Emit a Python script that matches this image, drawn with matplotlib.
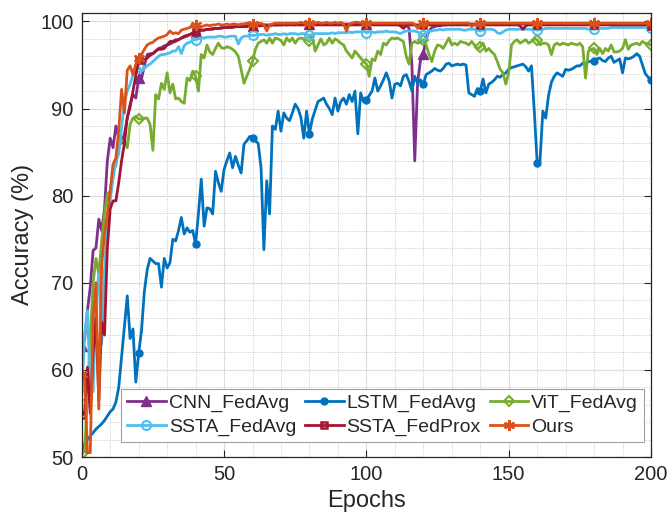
import numpy as np
import matplotlib
matplotlib.use('Agg')
import matplotlib.pyplot as plt
from matplotlib.ticker import MultipleLocator

# epochs 0..200
epochs = np.arange(0, 201)

cnn_fedavg = [
    62.8, 63.4, 66.8, 69.5, 73.7, 74.0, 77.3, 76.0, 78.5, 84.0,
    86.6, 85.5, 88.0, 86.6, 86.0, 87.1, 88.9, 90.5, 91.6, 91.2,
    93.5, 93.4, 94.9, 96.2, 96.3, 96.3, 96.6, 96.9, 97.0, 97.2,
    97.3, 97.4, 97.6, 97.7, 97.9, 98.1, 98.2, 98.3, 98.5, 98.6,
    98.8, 98.9, 99.0, 99.0, 99.1, 99.1, 99.2, 99.2, 99.2, 99.3,
    99.3, 99.3, 99.4, 99.4, 99.4, 99.4, 99.5, 99.5, 99.5, 99.5,
    99.5, 99.5, 99.6, 99.6, 99.6, 99.6, 99.6, 99.6, 99.6, 99.6,
    99.6, 99.7, 99.6, 99.7, 99.7, 99.6, 99.7, 99.7, 99.7, 99.7,
    99.7, 99.7, 99.7, 99.7, 99.7, 99.7, 99.7, 99.7, 99.7, 99.7,
    99.7, 99.7, 99.7, 99.7, 99.7, 99.7, 99.7, 99.7, 99.7, 99.7,
    99.7, 99.7, 99.7, 99.7, 99.7, 99.7, 99.7, 99.7, 99.7, 99.7,
    99.7, 99.7, 99.7, 99.6, 99.7, 99.2, 95.0, 84.0, 93.0, 95.5,
    96.3, 98.0, 98.9, 99.3, 99.4, 99.5, 99.5, 99.6, 99.6, 99.7,
    99.7, 99.7, 99.7, 99.7, 99.7, 99.7, 99.7, 99.7, 99.7, 99.7,
    99.7, 99.7, 99.7, 99.7, 99.7, 99.7, 99.7, 99.7, 99.7, 99.7,
    99.7, 99.7, 99.7, 99.7, 99.7, 99.7, 99.7, 99.7, 99.7, 99.7,
    99.7, 99.7, 99.7, 99.7, 99.7, 99.7, 99.7, 99.7, 99.7, 99.7,
    99.7, 99.7, 99.7, 99.7, 99.7, 99.7, 99.7, 99.7, 99.7, 99.7,
    99.7, 99.7, 99.7, 99.7, 99.7, 99.7, 99.7, 99.7, 99.7, 99.7,
    99.7, 99.7, 99.7, 99.7, 99.7, 99.7, 99.7, 99.7, 99.7, 99.7,
    99.7,
]

lstm_fedavg = [
    51.0, 51.5, 52.0, 52.4, 52.8, 53.2, 53.5, 53.8, 54.2, 54.7,
    55.2, 55.5, 56.3, 58.0, 61.5, 65.0, 68.5, 63.6, 64.7, 58.6,
    61.9, 64.5, 69.0, 71.5, 72.8, 72.5, 72.2, 72.2, 69.5, 72.8,
    71.7, 72.3, 75.0, 74.8, 76.0, 77.5, 75.6, 76.3, 75.8, 76.0,
    74.5, 77.9, 81.9, 76.5, 78.6, 78.5, 77.9, 82.8, 81.5, 80.5,
    83.0, 84.0, 84.9, 83.2, 84.5, 83.5, 82.6, 85.9, 86.3, 86.8,
    86.6, 86.3, 86.0, 83.2, 73.8, 81.7, 77.9, 88.0, 87.6, 89.7,
    87.4, 89.5, 88.9, 88.6, 89.5, 90.5, 90.0, 89.0, 86.6, 89.7,
    87.1, 88.8, 89.8, 90.8, 91.0, 91.2, 90.5, 90.0, 89.3, 91.2,
    89.7, 90.8, 91.2, 90.5, 91.6, 90.8, 92.0, 87.1, 91.8, 90.8,
    91.0, 91.5, 92.0, 93.5, 92.0, 92.6, 93.3, 94.1, 93.2, 91.2,
    92.8, 92.9, 92.6, 93.7, 93.9, 93.1, 92.0, 93.7, 92.9, 93.3,
    92.8, 93.9, 94.1, 94.3, 94.6, 94.4, 94.3, 94.6, 95.1, 95.2,
    94.9, 95.0, 95.1, 95.0, 95.1, 95.0, 91.8, 91.6, 91.4, 92.3,
    92.0, 93.4, 91.8, 92.8, 93.0, 93.3, 93.7, 93.6, 93.9, 94.1,
    94.5, 94.7, 94.8, 94.9, 95.0, 95.1, 94.8, 94.3, 94.9, 89.7,
    83.8, 84.0, 89.7, 88.9, 91.5, 93.0, 93.7, 94.1, 93.9, 93.7,
    94.5, 94.4, 94.5, 94.7, 94.9, 94.9, 95.2, 95.1, 95.4, 95.4,
    95.5, 95.7, 95.8, 95.5, 95.4, 95.8, 96.0, 95.3, 95.5, 95.7,
    94.1, 95.8, 95.7, 95.8, 96.0, 96.3, 96.0, 95.0, 94.0, 93.6,
    93.3,
]

vit_fedavg = [
    50.3, 50.8, 57.0, 64.0, 70.0, 72.8, 71.0, 74.8, 78.0, 80.2,
    80.5, 82.8, 83.5, 85.5, 86.3, 86.3, 85.5, 88.2, 88.9, 89.1,
    88.8, 88.8, 88.9, 88.9, 88.2, 85.2, 91.6, 91.1, 92.9, 92.2,
    94.1, 91.8, 92.8, 91.1, 91.2, 90.8, 90.6, 93.5, 93.2, 94.3,
    93.7, 92.0, 96.2, 95.8, 97.3, 96.5, 96.2, 96.9, 97.5, 97.0,
    96.9, 97.1, 97.0, 96.8, 96.5, 96.0, 94.5, 92.9, 93.7, 94.5,
    95.4, 96.8, 97.5, 97.7, 97.9, 97.5, 98.1, 97.5, 98.1, 98.0,
    97.8, 97.3, 98.1, 97.7, 98.1, 97.5, 98.0, 98.1, 98.0, 97.9,
    97.7, 98.3, 96.6, 97.3, 98.0, 97.3, 97.5, 98.1, 97.5, 98.0,
    97.8, 97.5, 97.3, 96.6, 96.2, 95.8, 96.6, 96.2, 95.8, 95.4,
    95.1, 93.7, 95.7, 95.5, 96.6, 96.2, 97.5, 97.3, 97.8, 98.1,
    98.0, 98.1, 97.9, 97.7, 96.0, 95.1, 97.5, 97.7, 97.5, 97.6,
    97.9, 97.3, 96.2, 95.4, 96.6, 97.3, 97.2, 96.9, 97.5, 98.1,
    97.3, 97.5, 97.3, 97.7, 97.6, 97.5, 97.3, 97.7, 97.3, 96.8,
    97.1, 97.5, 96.6, 96.9, 96.5, 96.2, 95.4, 94.5, 94.1, 92.8,
    94.1, 97.3, 97.7, 97.9, 97.5, 97.7, 97.9, 97.5, 97.7, 98.0,
    97.9, 97.3, 97.5, 97.5, 97.3, 96.2, 97.3, 97.5, 97.3, 97.5,
    97.4, 97.3, 97.5, 97.4, 97.3, 97.5, 97.1, 93.5, 96.6, 96.8,
    96.9, 96.2, 96.9, 96.3, 96.9, 96.6, 97.3, 96.5, 96.5, 96.6,
    96.9, 97.9, 96.8, 97.3, 97.4, 97.5, 97.3, 97.7, 97.5, 97.4,
    97.3,
]

ssta_fedavg = [
    57.1, 64.0, 66.8, 58.0, 57.5, 68.0, 71.0, 63.0, 71.5, 76.5,
    79.5, 82.0, 84.0, 84.8, 87.8, 90.8, 92.0, 92.8, 93.9, 94.3,
    94.8, 94.3, 94.6, 94.9, 95.1, 95.4, 95.7, 96.0, 96.2, 96.2,
    96.3, 96.4, 96.6, 96.6, 97.1, 96.3, 97.2, 97.5, 97.6, 97.9,
    97.9, 98.0, 98.1, 98.1, 98.2, 98.2, 98.2, 98.2, 98.3, 98.3,
    98.2, 98.2, 98.3, 98.3, 98.3, 97.4, 98.1, 98.3, 98.3, 98.4,
    98.4, 98.4, 98.5, 98.5, 98.5, 98.4, 98.5, 98.5, 98.6, 98.5,
    98.5, 98.6, 98.5, 98.6, 98.6, 98.6, 98.5, 98.6, 98.6, 98.5,
    98.4, 98.5, 98.6, 98.6, 98.6, 98.6, 98.6, 98.6, 98.7, 98.6,
    98.7, 98.7, 98.7, 98.7, 98.8, 98.7, 98.8, 98.8, 98.8, 98.9,
    98.7, 98.8, 98.8, 98.7, 98.8, 98.8, 98.8, 98.9, 98.8, 98.8,
    98.8, 98.7, 98.6, 98.8, 98.9, 98.9, 98.9, 98.9, 98.8, 98.6,
    98.4, 98.7, 98.9, 98.9, 99.0, 99.0, 99.1, 99.0, 99.1, 99.1,
    99.1, 99.1, 99.1, 99.1, 99.0, 99.0, 99.1, 99.1, 99.1, 99.0,
    98.9, 99.0, 99.1, 99.1, 99.1, 99.0, 98.7, 98.6, 98.8, 99.0,
    99.1, 99.1, 99.1, 99.1, 99.1, 99.1, 99.1, 99.1, 99.1, 99.1,
    99.0, 99.1, 99.1, 99.2, 99.2, 99.2, 99.2, 99.2, 99.2, 99.2,
    99.2, 99.2, 99.2, 99.2, 99.2, 99.2, 99.2, 99.2, 99.1, 99.1,
    99.1, 99.2, 99.2, 99.2, 99.2, 99.2, 99.3, 99.3, 99.3, 99.3,
    99.3, 99.3, 99.3, 99.3, 99.3, 99.3, 99.3, 99.3, 99.3, 99.3,
    99.3,
]

ssta_fedprox = [
    54.8, 55.0, 60.3, 55.0, 62.0, 66.0, 56.5, 65.5, 64.0, 74.0,
    78.5, 79.4, 79.4, 81.5, 84.0, 86.0, 89.0, 90.2, 92.0, 93.8,
    95.6, 95.3, 95.6, 95.8, 96.1, 96.3, 96.6, 96.8, 96.8, 96.9,
    97.3, 97.7, 97.7, 97.9, 97.9, 98.1, 98.3, 98.4, 98.5, 98.7,
    98.8, 98.9, 99.0, 99.0, 99.1, 99.1, 99.1, 99.2, 99.2, 99.2,
    99.3, 99.3, 99.3, 99.3, 99.4, 99.4, 99.4, 99.4, 99.4, 99.5,
    99.5, 99.5, 99.5, 99.5, 99.6, 99.5, 99.5, 99.6, 99.6, 99.6,
    99.6, 99.6, 99.6, 99.6, 99.6, 99.6, 99.6, 99.6, 99.6, 99.6,
    99.6, 99.6, 99.6, 99.6, 99.6, 99.6, 99.6, 99.6, 99.6, 99.6,
    99.6, 99.6, 99.6, 99.5, 99.6, 99.6, 99.6, 99.6, 99.6, 99.6,
    99.6, 99.6, 99.6, 99.6, 99.6, 99.6, 99.6, 99.6, 99.6, 99.6,
    99.6, 99.6, 99.5, 99.2, 99.5, 99.6, 99.6, 99.6, 99.6, 99.6,
    99.6, 99.6, 99.6, 99.6, 99.6, 99.6, 99.6, 99.6, 99.6, 99.6,
    99.6, 99.6, 99.6, 99.6, 99.6, 99.6, 99.6, 99.6, 99.6, 99.6,
    99.6, 99.6, 99.6, 99.6, 99.6, 99.6, 99.6, 99.6, 99.6, 99.6,
    99.6, 99.6, 99.6, 99.6, 99.5, 99.1, 99.5, 99.6, 99.6, 99.6,
    99.6, 99.6, 99.6, 99.6, 99.6, 99.6, 99.6, 99.6, 99.6, 99.6,
    99.6, 99.6, 99.6, 99.6, 99.6, 99.6, 99.6, 99.6, 99.6, 99.6,
    99.6, 99.6, 99.6, 99.6, 99.6, 99.6, 99.6, 99.6, 99.6, 99.6,
    99.6, 99.6, 99.6, 99.6, 99.6, 99.6, 99.6, 99.6, 99.6, 99.6,
    99.5,
]

ours = [
    59.5, 59.4, 50.5, 50.5, 66.0, 70.0, 55.5, 72.0, 75.6, 77.9,
    80.5, 83.6, 84.3, 87.5, 92.2, 89.5, 94.4, 94.9, 93.9, 95.1,
    95.8, 96.2, 96.8, 97.3, 97.5, 97.6, 97.9, 98.1, 98.2, 98.3,
    98.5, 98.9, 98.6, 98.7, 98.6, 99.0, 99.1, 99.2, 99.3, 99.7,
    99.6, 99.5, 99.4, 99.5, 99.6, 99.5, 99.6, 99.6, 99.7, 99.6,
    99.6, 99.7, 99.6, 99.7, 99.7, 99.6, 99.7, 99.7, 99.8, 99.7,
    99.7, 99.8, 99.7, 99.8, 99.6, 98.9, 99.6, 99.7, 99.8, 99.8,
    99.8, 99.8, 99.8, 99.8, 99.8, 99.8, 99.8, 99.9, 99.8, 99.8,
    99.8, 99.8, 99.8, 99.9, 99.8, 99.8, 99.9, 99.8, 99.8, 99.9,
    99.8, 99.9, 99.7, 98.9, 99.7, 99.8, 99.9, 99.9, 99.8, 99.9,
    99.8, 99.8, 99.8, 99.8, 99.8, 99.8, 99.8, 99.8, 99.8, 99.8,
    99.8, 99.8, 99.8, 99.8, 99.8, 99.8, 99.8, 99.7, 99.2, 99.7,
    99.8, 99.8, 99.8, 99.8, 99.8, 99.8, 99.8, 99.8, 99.8, 99.8,
    99.8, 99.8, 99.8, 99.8, 99.8, 99.8, 99.8, 99.4, 99.7, 99.8,
    99.8, 99.8, 99.8, 99.8, 99.8, 99.8, 99.8, 99.8, 99.8, 99.8,
    99.8, 99.8, 99.8, 99.8, 99.8, 99.8, 99.8, 99.8, 99.8, 99.8,
    99.8, 99.8, 99.8, 99.8, 99.8, 99.8, 99.8, 99.8, 99.8, 99.8,
    99.8, 99.8, 99.8, 99.8, 99.8, 99.8, 99.8, 99.8, 99.8, 99.8,
    99.8, 99.8, 99.8, 99.8, 99.8, 99.8, 99.8, 99.8, 99.8, 99.8,
    99.8, 99.8, 99.8, 99.8, 99.8, 99.8, 99.8, 99.8, 99.8, 99.8,
    99.8,
]

plt.rcParams['font.family'] = ['Liberation Sans', 'DejaVu Sans']
text_color = '#262626'

fig = plt.figure(figsize=(6.71, 5.21), dpi=100)
ax = fig.add_axes([0.1218, 0.1228, 0.8484, 0.8528])

lw = 2.0
l_cnn, = ax.plot(epochs, cnn_fedavg, color='#7E2F8E', lw=lw, marker='^', ms=6.5,
                 markevery=20, label='CNN_FedAvg')
l_lstm, = ax.plot(epochs, lstm_fedavg, color='#0072BD', lw=lw, marker='o', ms=5,
                  markevery=20, label='LSTM_FedAvg')
l_vit, = ax.plot(epochs, vit_fedavg, color='#77AC30', lw=lw, marker='D', ms=5.5,
                 mfc='none', mew=1.5, markevery=20, label='ViT_FedAvg')
l_sa, = ax.plot(epochs, ssta_fedavg, color='#4DBEEE', lw=lw, marker='o', ms=6.5,
                mfc='none', mew=1.5, markevery=20, label='SSTA_FedAvg')
l_sp, = ax.plot(epochs, ssta_fedprox, color='#A2142F', lw=lw, marker='s', ms=5,
                mfc='none', mew=1.8, markevery=20, label='SSTA_FedProx')
l_ours, = ax.plot(epochs, ours, color='#D95319', lw=lw, marker=(6, 2, 0), ms=8,
                  mew=1.5, markevery=20, label='Ours')

# axis limits and ticks
ax.set_xlim(0, 200)
ax.set_ylim(50, 101)
ax.set_xticks(np.arange(0, 201, 50))
ax.set_yticks(np.arange(50, 101, 10))
ax.xaxis.set_minor_locator(MultipleLocator(10))
ax.yaxis.set_minor_locator(MultipleLocator(2))
ax.tick_params(which='major', direction='in', length=5, width=0.8,
               top=True, right=True, labelsize=14.5, colors=text_color, pad=6)
ax.tick_params(which='minor', length=0, top=True, right=True)

# grid
ax.set_axisbelow(True)
ax.grid(which='major', color='#dcdcdc', lw=0.8, ls='-')
ax.grid(which='minor', color='#c8c8c8', lw=0.7, ls=(0, (1, 1.5)))

for s in ax.spines.values():
    s.set_color(text_color)
    s.set_linewidth(0.9)

ax.set_xlabel('Epochs', fontsize=17, color=text_color, labelpad=4)
ax.set_ylabel('Accuracy (%)', fontsize=17, color=text_color, labelpad=4)

# legend, filled column by column
handles = [l_cnn, l_sa, l_lstm, l_sp, l_vit, l_ours]
leg = ax.legend(handles=handles, ncol=3, loc='lower left',
                bbox_to_anchor=(0.069, 0.034), borderaxespad=0,
                fontsize=14, handlelength=2.0, handletextpad=0.15,
                columnspacing=0.45, labelspacing=0.3, borderpad=0.3,
                fancybox=False, framealpha=1, edgecolor='#a0a0a0')
leg.get_frame().set_linewidth(0.8)
for t in leg.get_texts():
    t.set_color(text_color)

fig.savefig('out.png', dpi=100)
